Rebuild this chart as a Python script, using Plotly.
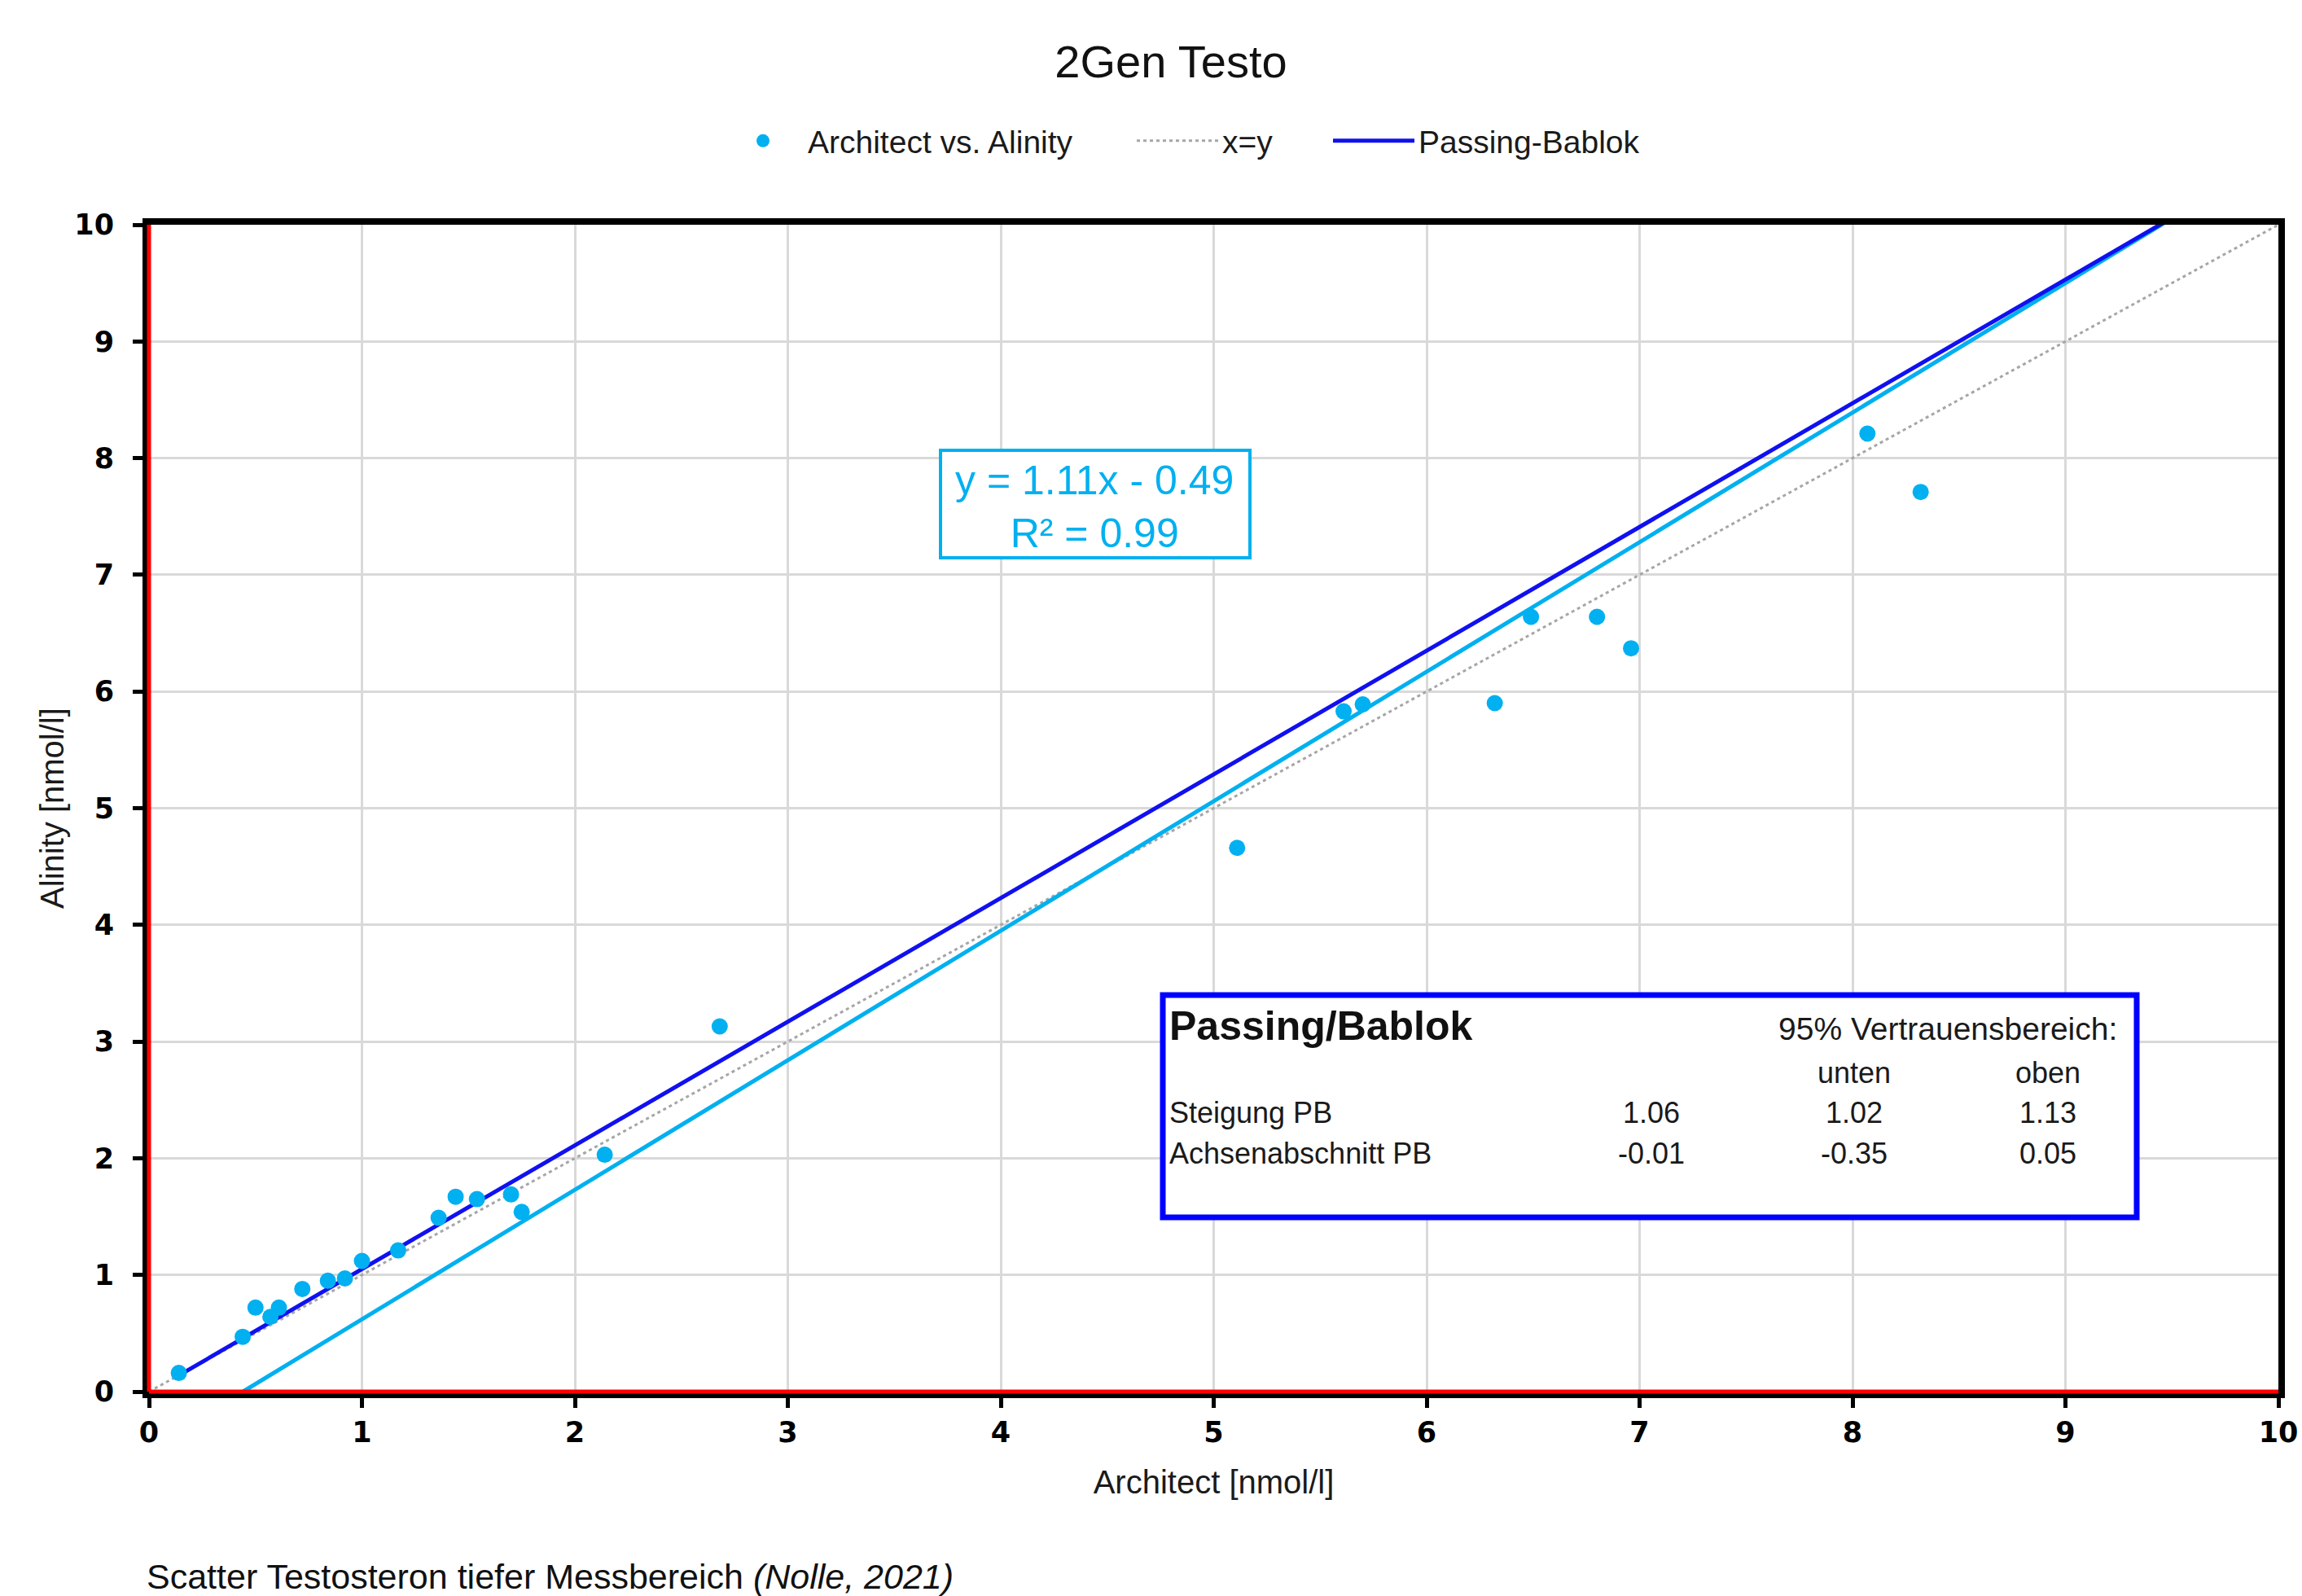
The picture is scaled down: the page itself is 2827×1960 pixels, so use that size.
import plotly.graph_objects as go

# ---------------- data ----------------
architect = [0.14, 0.44, 0.50, 0.57, 0.61, 0.72, 0.84, 0.92, 1.00, 1.17, 1.36, 1.44,
             1.54, 1.70, 1.75, 2.14, 2.68, 5.11, 5.61, 5.70, 6.32, 6.49, 6.80, 6.96,
             8.07, 8.32]
alinity = [0.16, 0.47, 0.72, 0.64, 0.72, 0.88, 0.95, 0.97, 1.12, 1.21, 1.49, 1.67,
           1.65, 1.69, 1.54, 2.03, 3.13, 4.66, 5.83, 5.89, 5.90, 6.64, 6.64, 6.37,
           8.21, 7.71]

pb_slope, pb_intercept = 1.06, -0.01          # Passing-Bablok
lin_slope, lin_intercept, lin_r2 = 1.11, -0.49, 0.99   # linear trendline

pb_rows = ["Steigung PB", "Achsenabschnitt PB"]
pb_est = ["1.06", "-0.01"]
pb_low = ["1.02", "-0.35"]
pb_high = ["1.13", "0.05"]

axis_min, axis_max = 0, 10
tick_vals = list(range(0, 11))

# ---------------- styles ----------------
SANS = "Liberation Sans, Arial, sans-serif"
TICKF = "DejaVu Sans, Verdana, sans-serif"
LIGHTBLUE = "#00B0F0"
PBBLUE = "#1010F0"
W, H = 2827, 1960
ML, MR, MT, MB = 183, 29, 276, 251
PW, PH = W - ML - MR, H - MT - MB


def px2x(px):
    return (px - ML) / PW * (axis_max - axis_min) + axis_min


def px2y(py):
    return (H - MB - py) / PH * (axis_max - axis_min) + axis_min


fig = go.Figure()

# x = y reference
fig.add_trace(go.Scatter(
    x=[axis_min, axis_max], y=[axis_min, axis_max], mode="lines", name="x=y",
    line=dict(color="#A6A6A6", width=3, dash="4px,4px"),
    legend="legend2", hoverinfo="skip"))

# linear trendline
x_lin0 = -lin_intercept / lin_slope
fig.add_trace(go.Scatter(
    x=[x_lin0, axis_max], y=[lin_slope * x_lin0 + lin_intercept, lin_slope * axis_max + lin_intercept],
    mode="lines", name="Linear", showlegend=False,
    line=dict(color=LIGHTBLUE, width=5), hoverinfo="skip"))

# Passing-Bablok line
x_pb0 = min(architect)
fig.add_trace(go.Scatter(
    x=[x_pb0, axis_max], y=[pb_slope * x_pb0 + pb_intercept, pb_slope * axis_max + pb_intercept],
    mode="lines", name="Passing-Bablok",
    line=dict(color=PBBLUE, width=5), legend="legend3"))

# scatter points
fig.add_trace(go.Scatter(
    x=architect, y=alinity, mode="markers", name="Architect vs. Alinity",
    marker=dict(color=LIGHTBLUE, size=20), legend="legend"))

axis_common = dict(
    range=[axis_min, axis_max], tickmode="array", tickvals=tick_vals,
    showgrid=True, gridcolor="#D9D9D9", gridwidth=3,
    showline=True, linecolor="black", linewidth=8, mirror=True,
    ticks="outside", ticklen=12, tickwidth=5, tickcolor="black",
    tickfont=dict(family=TICKF, size=35, color="black", weight="bold"),
    zeroline=False, fixedrange=True, automargin=False,
)

fig.update_layout(
    width=W, height=H, autosize=False,
    margin=dict(l=ML, r=MR, t=MT, b=MB, pad=0, autoexpand=False),
    paper_bgcolor="white", plot_bgcolor="white",
    font=dict(family=SANS, color="#1a1a1a"),
    title=dict(text="2Gen Testo", x=1438 / W, xanchor="center", xref="container",
               y=1 - 75 / H, yanchor="middle", yref="container", automargin=False,
               font=dict(family=SANS, size=56, color="#111111")),
    xaxis=dict(**axis_common,
               title=dict(text="Architect [nmol/l]", standoff=31,
                          font=dict(family=SANS, size=40, color="#1a1a1a"))),
    yaxis=dict(**axis_common, ticklabelstandoff=16,
               title=dict(text="Alinity [nmol/l]", standoff=3,
                          font=dict(family=SANS, size=40, color="#1a1a1a"))),
    showlegend=True,
)

leg_common = dict(orientation="h", yanchor="middle", y=(H - MB - 173) / PH,
                  xanchor="left", bgcolor="rgba(0,0,0,0)", borderwidth=0,
                  itemwidth=100, font=dict(family=SANS, size=39, color="#1a1a1a"))
fig.update_layout(
    legend=dict(**leg_common, x=(882 - ML) / PW),
    legend2=dict(**leg_common, x=(1391 - ML) / PW),
    legend3=dict(**leg_common, x=(1632 - ML) / PW),
)

shapes = []
# red zero lines
shapes.append(dict(type="line", xref="paper", yref="paper", x0=0, x1=0, y0=0, y1=1,
                   line=dict(color="#FF0000", width=5), layer="above"))
shapes.append(dict(type="line", xref="paper", yref="paper", x0=0, x1=1, y0=0, y1=0,
                   line=dict(color="#FF0000", width=5), layer="above"))
# equation box
shapes.append(dict(type="rect", xref="x", yref="y",
                   x0=px2x(1155), x1=px2x(1535), y0=px2y(685), y1=px2y(553),
                   line=dict(color=LIGHTBLUE, width=4), fillcolor="white", layer="above"))
# Passing/Bablok box
shapes.append(dict(type="rect", xref="x", yref="y",
                   x0=px2x(1428), x1=px2x(2624), y0=px2y(1495), y1=px2y(1222),
                   line=dict(color="#0000FF", width=7), fillcolor="white", layer="above"))
fig.update_layout(shapes=shapes)

ann = []
ann.append(dict(xref="x", yref="y", x=px2x(1344), y=px2y(622), showarrow=False,
                xanchor="center", yanchor="middle", align="center",
                text=f"y = {lin_slope:.2f}x - {abs(lin_intercept):.2f}<br>R² = {lin_r2:.2f}",
                font=dict(family=SANS, size=50, color=LIGHTBLUE)))

tf = dict(family=SANS, size=36, color="#1a1a1a")
ann.append(dict(xref="x", yref="y", x=px2x(1434), y=px2y(1260), showarrow=False,
                xanchor="left", yanchor="middle", text="<b>Passing/Bablok</b>",
                font=dict(family=SANS, size=50, color="#111111")))
ann.append(dict(xref="x", yref="y", x=px2x(2602), y=px2y(1263), showarrow=False,
                xanchor="right", yanchor="middle", text="95% Vertrauensbereich:",
                font=dict(family=SANS, size=39, color="#1a1a1a")))
col_x = [px2x(2028), px2x(2277), px2x(2515)]
ann.append(dict(xref="x", yref="y", x=col_x[1], y=px2y(1317), showarrow=False,
                xanchor="center", yanchor="middle", text="unten", font=tf))
ann.append(dict(xref="x", yref="y", x=col_x[2], y=px2y(1317), showarrow=False,
                xanchor="center", yanchor="middle", text="oben", font=tf))
row_y = [px2y(1366), px2y(1416)]
for i, label in enumerate(pb_rows):
    ann.append(dict(xref="x", yref="y", x=px2x(1434), y=row_y[i], showarrow=False,
                    xanchor="left", yanchor="middle", text=label, font=tf))
    for j, val in enumerate([pb_est[i], pb_low[i], pb_high[i]]):
        ann.append(dict(xref="x", yref="y", x=col_x[j], y=row_y[i], showarrow=False,
                        xanchor="center", yanchor="middle", text=val, font=tf))

# caption
ann.append(dict(xref="paper", yref="paper", x=(178 - ML) / PW, y=(H - MB - 1936) / PH,
                showarrow=False, xanchor="left", yanchor="middle",
                text="Scatter Testosteron tiefer Messbereich <i>(Nolle, 2021)</i>",
                font=dict(family=SANS, size=43, color="#111111")))
fig.update_layout(annotations=ann)

# remove the default 8px page margin so the figure fills the window exactly
fig.write_html("out.html", config={"displayModeBar": False},
               post_script="document.body.style.margin='0';document.body.style.overflow='hidden';")
